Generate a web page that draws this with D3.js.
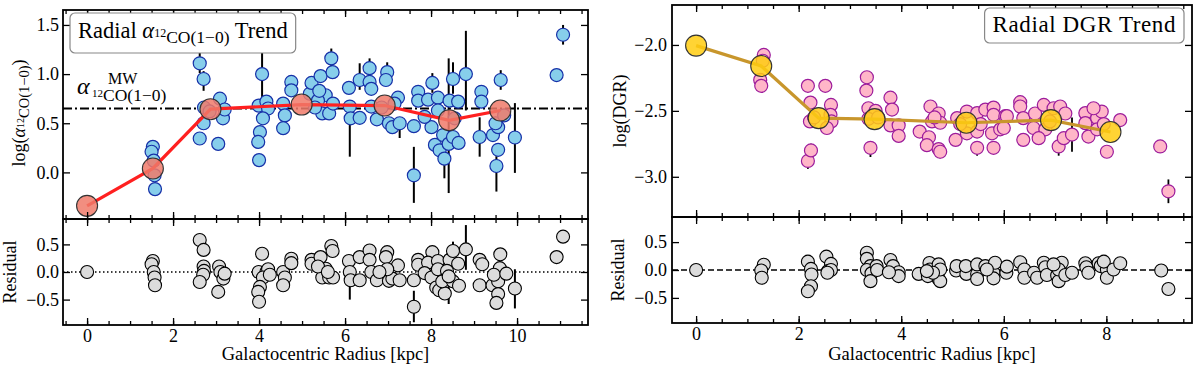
<!DOCTYPE html>
<html>
<head>
<meta charset="utf-8">
<script src="https://cdn.jsdelivr.net/npm/d3@7"></script>
<style>
body { margin: 0; background: #fff; }
svg { font-family: "Liberation Serif", "Times New Roman", serif; }
</style>
</head>
<body>
<script>
// ---- datos panel izquierdo (alpha CO) ----
var alphaTrendR = [0, 1.53, 2.87, 4.99, 6.92, 8.42, 9.61];
var alphaTrendV = [-0.34, 0.04, 0.643, 0.69, 0.68, 0.53, 0.63];
var alphaMW = 0.65;

// [radio, valor, errInf, errSup]
var alphaPts = [
  [1.53,0.26],[1.50,0.21],[1.55,0.12],[1.57,-0.03],[1.58,-0.17],
  [2.62,1.11,0.10,0.12],[2.71,0.95,0.12,0.08],[2.62,0.345],[2.71,0.50],[2.72,0.66],[3.05,0.29],[3.09,0.75],[3.16,0.55],[3.20,0.64],[2.85,0.62],
  [4.07,1.00,0.27,0.29],[3.99,0.68],[4.17,0.72],[4.21,0.65],[4.09,0.55],[4.02,0.41],[3.98,0.31],[4.00,0.125],
  [4.56,0.70],[4.60,0.58],[4.56,0.45],[4.75,0.92],[4.75,0.835],
  [5.18,0.80],[5.22,0.91],[5.43,0.98],[5.68,1.16,0.10,0.10],[5.71,1.02],[5.55,0.785],[5.47,0.60,0.06,0.06],[5.63,0.60],[5.72,0.70],[5.37,0.73],[5.30,0.66],[5.40,0.83],
  [6.09,0.86],[6.11,0.67,0.51,0.05],[6.13,0.55],[6.34,0.94,0.10,0.17],[6.34,0.555],
  [6.57,1.06,0.12,0.10],[6.57,0.92],[6.61,0.85],[6.98,1.02,0.10,0.10],[6.95,0.94],[6.61,0.67],[6.74,0.54],[7.02,0.50],[7.10,0.46],[7.23,0.76],[7.27,0.50,0.15,0.05],[7.15,0.70],[6.85,0.66],
  [7.60,0.47],[7.60,-0.03,0.28,0.29],[7.70,0.82,0.10,0.05],[7.70,0.73],
  [7.93,0.74],[8.03,0.91,0.10,0.10],[8.16,0.76],[8.01,0.46],[7.85,0.565],[8.16,0.63],[8.43,0.73],[8.51,0.95,0.15,0.17],[8.63,0.72],[8.81,1.00,0.37,0.44],
  [8.09,0.28],[8.20,0.225],[8.31,0.14,0.20,0.10],[8.28,0.38],[8.41,0.29,0.50,0.87],[8.51,0.36],[8.64,0.30],[8.55,0.55],
  [9.17,0.82],[9.17,0.72],[9.13,0.36,0.20,0.20],
  [9.62,0.94,0.10,0.10],[9.44,0.38],[9.56,0.46],[9.56,0.23],[9.52,0.065,0.26,0.10],[9.50,0.50],[9.70,0.58],[9.95,0.355,0.36,0.35],
  [10.92,0.99,0.06,0.06],[11.07,1.40,0.10,0.10]
];

var alphaRes = [
  [0,0],
  [1.53,0.20],[1.50,0.14],[1.55,0.0],[1.57,-0.10],[1.58,-0.24],
  [2.62,0.58],[2.71,0.40],[2.71,0.10],[2.72,0.02],[2.70,-0.05],[2.62,-0.18],[3.07,0.10],[3.10,0.0],[3.17,-0.12],[3.20,-0.03],[3.05,-0.36],
  [4.07,0.33,0.10,0.10],[3.99,0.0],[4.17,0.0],[4.21,0.05],[4.09,-0.10],[4.02,-0.27],[3.98,-0.36],[4.00,-0.54],[4.25,-0.05],
  [4.56,0.0],[4.60,-0.10],[4.56,-0.24],[4.75,0.24],[4.75,0.16],
  [5.22,0.22],[5.22,0.15],[5.43,0.27],[5.55,0.06],[5.47,-0.10],[5.68,0.47],[5.71,0.38],[5.63,-0.10],[5.72,-0.10],[5.37,0.10],[5.60,0.0],
  [6.09,0.20],[6.11,0.0,0.50,0.05],[6.13,-0.15],[6.34,0.27],[6.34,-0.15],
  [6.57,0.39],[6.57,0.22],[6.61,0.0],[6.98,0.36],[6.95,0.27],[6.74,-0.15],[7.02,-0.16],[7.10,-0.12],[7.23,0.12],[7.27,-0.15],[6.98,0.05],[6.80,0.0],
  [7.60,-0.15],[7.60,-0.63,0.28,0.29],[7.70,0.22],[7.70,0.13],
  [8.03,0.36],[7.93,0.17],[7.85,-0.02],[8.01,-0.10],[8.16,0.20],[8.16,0.05],[8.43,0.22],[8.51,0.38,0.15,0.17],[8.63,0.15],[8.81,0.41,0.37,0.44],
  [8.12,-0.28],[8.19,-0.33],[8.32,-0.39],[8.26,-0.17],[8.51,-0.17],[8.65,-0.25],[8.37,0.02],[8.41,-0.08,0.50,0.50],
  [9.13,0.22],[9.19,0.14],[9.13,-0.24,0.10,0.10],
  [9.61,0.32],[9.60,0.07],[9.43,-0.24],[9.56,-0.17],[9.56,-0.40],[9.52,-0.56,0.10,0.10],[9.46,-0.05],[9.75,-0.03],[9.95,-0.30,0.36,0.35],
  [10.92,0.27],[11.07,0.64,0.08,0.08]
];

// ---- datos panel derecho (DGR) ----
var dgrTrendR = [0, 1.27, 2.39, 3.48, 5.27, 6.92, 8.08];
var dgrTrendV = [-2.005, -2.16, -2.555, -2.563, -2.59, -2.57, -2.66];

var dgrPts = [
  [1.32,-2.076],[1.25,-2.265],[1.27,-2.31],[1.30,-2.12],
  [2.18,-2.31],[2.52,-2.31],[2.23,-2.437],[2.63,-2.455],[2.18,-2.88,0.06,0.05],[2.24,-2.80,0.05,0.05],[2.22,-2.58],[2.62,-2.53],[2.64,-2.58],[2.55,-2.63],[2.30,-2.55],
  [3.33,-2.245],[3.32,-2.346],[3.36,-2.48],[3.40,-2.78,0.07,0.05],[3.50,-2.50],[3.36,-2.56],[3.55,-2.55],
  [3.79,-2.40],[3.82,-2.49],[3.79,-2.61],[3.95,-2.61],[3.95,-2.69],
  [4.57,-2.467],[4.73,-2.52],[4.60,-2.58],[4.76,-2.59],[4.36,-2.657],[4.54,-2.70],[4.50,-2.76],[4.73,-2.79],[4.76,-2.81,0.05,0.05],[4.65,-2.55],
  [5.09,-2.555],[5.06,-2.72],[5.28,-2.505],[5.48,-2.517],[5.48,-2.78,0.06,0.05],[5.28,-2.67],[5.48,-2.657],[5.64,-2.49],[5.80,-2.475],[5.80,-2.53],[5.77,-2.67],[5.80,-2.78],[5.93,-2.64],[6.03,-2.54],[5.15,-2.60],[5.55,-2.60],
  [6.32,-2.434],[6.32,-2.467],[6.06,-2.54],[6.38,-2.555],[6.61,-2.52],[6.78,-2.455],[6.97,-2.48],[7.10,-2.467],[7.20,-2.52],[6.58,-2.63],[6.81,-2.64],[6.68,-2.707],[6.38,-2.72],[7.07,-2.77,0.07,0.05],[7.17,-2.707],[7.33,-2.68,0.13,0.13],[6.00,-2.63],[6.90,-2.58],
  [7.59,-2.517],[7.59,-2.593],[7.65,-2.695],[7.82,-2.555],[7.91,-2.505],[7.82,-2.64],[8.01,-2.81],[8.27,-2.57],[7.75,-2.48],[7.95,-2.60],
  [9.05,-2.77],[9.21,-3.11,0.09,0.09]
];

var dgrRes = [
  [0,0],[1.32,0.095],[1.27,-0.01],[1.28,-0.14],
  [2.18,0.15],[2.24,0.02],[2.25,-0.08],[2.24,-0.29],[2.18,-0.38],[2.54,0.24],[2.63,0.11],[2.57,-0.02],[2.63,0.0],[2.56,-0.05],
  [3.33,0.31],[3.33,0.20],[3.40,0.07],[3.33,0.0],[3.42,-0.06],[3.40,-0.20],[3.52,0.07],[3.53,0.0],
  [3.79,0.18],[3.84,0.07],[3.95,-0.04],[3.95,-0.11],[3.76,-0.04],
  [4.34,-0.07],[4.55,0.125],[4.56,0.01],[4.73,0.10],[4.52,-0.11],[4.73,-0.16],[4.76,-0.20],[4.76,0.01],[4.62,-0.05],[4.50,-0.02],
  [5.07,-0.01],[5.08,0.07],[5.27,-0.07],[5.26,0.07],[5.48,-0.07],[5.48,-0.16],[5.48,0.10],[5.64,0.07],[5.80,-0.05],[5.83,0.13],[5.80,-0.15],[6.05,-0.05],[6.06,0.06],[5.67,0.01],
  [6.32,0.14],[6.40,0.01],[6.40,-0.14],[6.59,-0.05],[6.65,-0.14],[6.78,0.13],[6.81,0.05],[6.84,-0.09],[7.04,-0.10],[7.07,-0.20],[7.13,0.13],[7.07,0.01],[7.20,-0.09],[7.33,-0.05],[6.97,0.10],
  [7.59,0.12],[7.61,0.05],[7.65,-0.05],[7.85,0.12],[7.89,0.07],[8.01,0.01],[8.01,-0.14],[7.95,0.15],[8.14,0.01],[8.27,0.12],
  [9.07,-0.01],[9.21,-0.34]
];

var ticksAlpha = [0.0, 0.5, 1.0, 1.5];
var ticksDgr = [-3.0, -2.5, -2.0];
var ticksRes = [-0.5, 0.0, 0.5];

// ---- escalas ----
var xL = d3.scaleLinear().domain([-0.56, 11.65]).range([63, 588]);
var yL = d3.scaleLinear().domain([-0.474, 1.652]).range([219, 10]);
var yLr = d3.scaleLinear().domain([-0.96, 0.96]).range([325, 219]);

var xR = d3.scaleLinear().domain([-0.47, 9.67]).range([672, 1192]);
var yR = d3.scaleLinear().domain([-3.305, -1.697]).range([217, 5]);
var yRr = d3.scaleLinear().domain([-0.95, 0.95]).range([323, 217]);

var svg = d3.select("body").append("svg").attr("width", 1200).attr("height", 370);

function limpiar(g, tam) {
  g.select(".domain").remove();
  g.attr("font-family", null).attr("font-size", tam);
  g.selectAll("line").attr("stroke", "#000").attr("stroke-width", 1.3);
  g.selectAll("text").attr("fill", "#000");
}

function ejes(x, y, yTicks, etiquetasX, pad) {
  var x0 = x.range()[0], x1 = x.range()[1];
  var y0 = y.range()[1], y1 = y.range()[0];
  var g = svg.append("g");
  var menores = d3.range(Math.ceil(x.domain()[0] * 2) / 2, x.domain()[1], 0.5);
  var mayores = menores.filter(function(d) { return Math.abs(d / 2 - Math.round(d / 2)) < 1e-6; });

  g.append("g").attr("transform", "translate(0," + y1 + ")")
    .call(d3.axisBottom(x).tickValues(menores).tickSize(-4).tickSizeOuter(0).tickFormat(""))
    .call(limpiar, 18);
  g.append("g").attr("transform", "translate(0," + y1 + ")")
    .call(d3.axisBottom(x).tickValues(mayores).tickSize(-7).tickSizeOuter(0).tickPadding(4)
      .tickFormat(etiquetasX ? d3.format("d") : ""))
    .call(limpiar, 18);
  g.append("g").attr("transform", "translate(0," + y0 + ")")
    .call(d3.axisTop(x).tickValues(menores).tickSize(-4).tickSizeOuter(0).tickFormat(""))
    .call(limpiar, 18);
  g.append("g").attr("transform", "translate(0," + y0 + ")")
    .call(d3.axisTop(x).tickValues(mayores).tickSize(-7).tickSizeOuter(0).tickFormat(""))
    .call(limpiar, 18);
  g.append("g").attr("transform", "translate(" + x0 + ",0)")
    .call(d3.axisLeft(y).tickValues(yTicks).tickSize(-7).tickSizeOuter(0).tickPadding(pad).tickFormat(d3.format(".1f")))
    .call(limpiar, 18);
  g.append("g").attr("transform", "translate(" + x1 + ",0)")
    .call(d3.axisRight(y).tickValues(yTicks).tickSize(-7).tickSizeOuter(0).tickFormat(""))
    .call(limpiar, 18);
  g.append("rect").attr("x", x0).attr("y", y0).attr("width", x1 - x0).attr("height", y1 - y0)
    .attr("fill", "none").attr("stroke", "#000").attr("stroke-width", 1.8);
}

function barras(x, y, datos, ancho) {
  svg.append("g").selectAll("line").data(datos.filter(function(d) { return d.length > 2; }))
    .enter().append("line")
    .attr("x1", function(d) { return x(d[0]); }).attr("x2", function(d) { return x(d[0]); })
    .attr("y1", function(d) { return y(d[1] - d[2]); }).attr("y2", function(d) { return y(d[1] + d[3]); })
    .attr("stroke", "#000").attr("stroke-width", ancho);
}

function puntos(x, y, datos, r, relleno, borde, grosor) {
  svg.append("g").selectAll("circle").data(datos).enter().append("circle")
    .attr("cx", function(d) { return x(d[0]); }).attr("cy", function(d) { return y(d[1]); })
    .attr("r", r).attr("fill", relleno).attr("stroke", borde).attr("stroke-width", grosor);
}

function tendencia(x, y, rs, vs, colorLinea, relleno, opac) {
  var pares = rs.map(function(r, i) { return [r, vs[i]]; });
  svg.append("path").datum(pares)
    .attr("d", d3.line().x(function(d) { return x(d[0]); }).y(function(d) { return y(d[1]); }))
    .attr("fill", "none").attr("stroke", colorLinea).attr("stroke-width", 3.2);
  svg.append("g").selectAll("circle").data(pares).enter().append("circle")
    .attr("cx", function(d) { return x(d[0]); }).attr("cy", function(d) { return y(d[1]); })
    .attr("r", 10.5).attr("fill", relleno).attr("fill-opacity", opac)
    .attr("stroke", "#333").attr("stroke-width", 1.1);
}

function lineaCero(x, y, patron) {
  svg.append("line").attr("x1", x.range()[0]).attr("x2", x.range()[1])
    .attr("y1", y(0)).attr("y2", y(0))
    .attr("stroke", "#000").attr("stroke-width", 1.6).attr("stroke-dasharray", patron);
}

// ---- panel izquierdo ----
svg.append("line").attr("x1", xL.range()[0]).attr("x2", xL.range()[1])
  .attr("y1", yL(alphaMW)).attr("y2", yL(alphaMW))
  .attr("stroke", "#000").attr("stroke-width", 2).attr("stroke-dasharray", "9,3,2,3");
barras(xL, yL, alphaPts, 2);
puntos(xL, yL, alphaPts, 6.5, "#87ceeb", "#1630a8", 1.2);
tendencia(xL, yL, alphaTrendR, alphaTrendV, "#ff2020", "#f07a6a", 0.85);

lineaCero(xL, yLr, "1.5,2.5");
barras(xL, yLr, alphaRes, 2);
puntos(xL, yLr, alphaRes, 6.5, "#dcdcdc", "#000", 1.1);

ejes(xL, yL, ticksAlpha, false, 4);
ejes(xL, yLr, ticksRes, true, 4);

// ---- panel derecho ----
barras(xR, yR, dgrPts, 1.8);
puntos(xR, yR, dgrPts, 6.5, "#ffb6c8", "#9c1c9c", 1.2);
tendencia(xR, yR, dgrTrendR, dgrTrendV, "#c8962c", "#ffcc10", 0.85);

lineaCero(xR, yRr, "6,3");
puntos(xR, yRr, dgrRes, 6.5, "#dcdcdc", "#000", 1.1);

ejes(xR, yR, ticksDgr, false, 5);
ejes(xR, yRr, ticksRes, true, 5);

// ---- textos ----
function etiquetaX(x) {
  svg.append("text").attr("x", (x.range()[0] + x.range()[1]) / 2).attr("y", 360)
    .attr("text-anchor", "middle").attr("font-size", 18.5).text("Galactocentric Radius [kpc]");
}
etiquetaX(xL);
etiquetaX(xR);

function etiquetaY(cx, cy) {
  return svg.append("text").attr("transform", "translate(" + cx + "," + cy + ") rotate(-90)")
    .attr("text-anchor", "middle").attr("font-size", 18);
}
var tl = etiquetaY(25, 113);
tl.append("tspan").text("log(");
tl.append("tspan").attr("font-style", "italic").text("α");
tl.append("tspan").attr("font-size", 10).attr("dy", -1).text("12");
tl.append("tspan").attr("font-size", 14.5).attr("dy", 5).text("CO(1−0)");
tl.append("tspan").attr("dy", -4).text(")");
etiquetaY(16, 272).text("Residual");
etiquetaY(626, 111).text("log(DGR)");
etiquetaY(624, 270).text("Residual");

// etiqueta alpha MW
svg.append("text").attr("x", 77).attr("y", 94).attr("font-size", 24).attr("font-style", "italic").text("α");
svg.append("text").attr("x", 108).attr("y", 84).attr("font-size", 16).text("MW");
svg.append("text").attr("x", 92).attr("y", 97).attr("font-size", 11).text("12");
svg.append("text").attr("x", 103).attr("y", 101).attr("font-size", 17.5).text("CO(1−0)");

// caja titulo izquierda
var cajaL = svg.append("rect");
var tt = svg.append("text").attr("x", 78).attr("y", 38).attr("font-size", 22.5);
tt.append("tspan").text("Radial ");
tt.append("tspan").attr("font-style", "italic").text("α");
tt.append("tspan").attr("font-size", 12).attr("dy", -1).text("12");
tt.append("tspan").attr("font-size", 17.5).attr("dy", 6).text("CO(1−0)");
tt.append("tspan").attr("dy", -5).text(" Trend");
var b = tt.node().getBBox();
cajaL.attr("x", b.x - 8).attr("y", 13).attr("width", b.width + 16).attr("height", 40)
  .attr("rx", 5).attr("fill", "#fff").attr("stroke", "#888").attr("stroke-width", 1.2);

// caja titulo derecha
var cajaR = svg.append("rect");
var tr = svg.append("text").attr("x", 1176).attr("y", 32).attr("text-anchor", "end")
  .attr("font-size", 23).attr("letter-spacing", 0.6).text("Radial DGR Trend");
var b2 = tr.node().getBBox();
cajaR.attr("x", b2.x - 8).attr("y", 8).attr("width", b2.width + 16).attr("height", 35)
  .attr("rx", 5).attr("fill", "#fff").attr("stroke", "#888").attr("stroke-width", 1.2);
</script>
</body>
</html>
